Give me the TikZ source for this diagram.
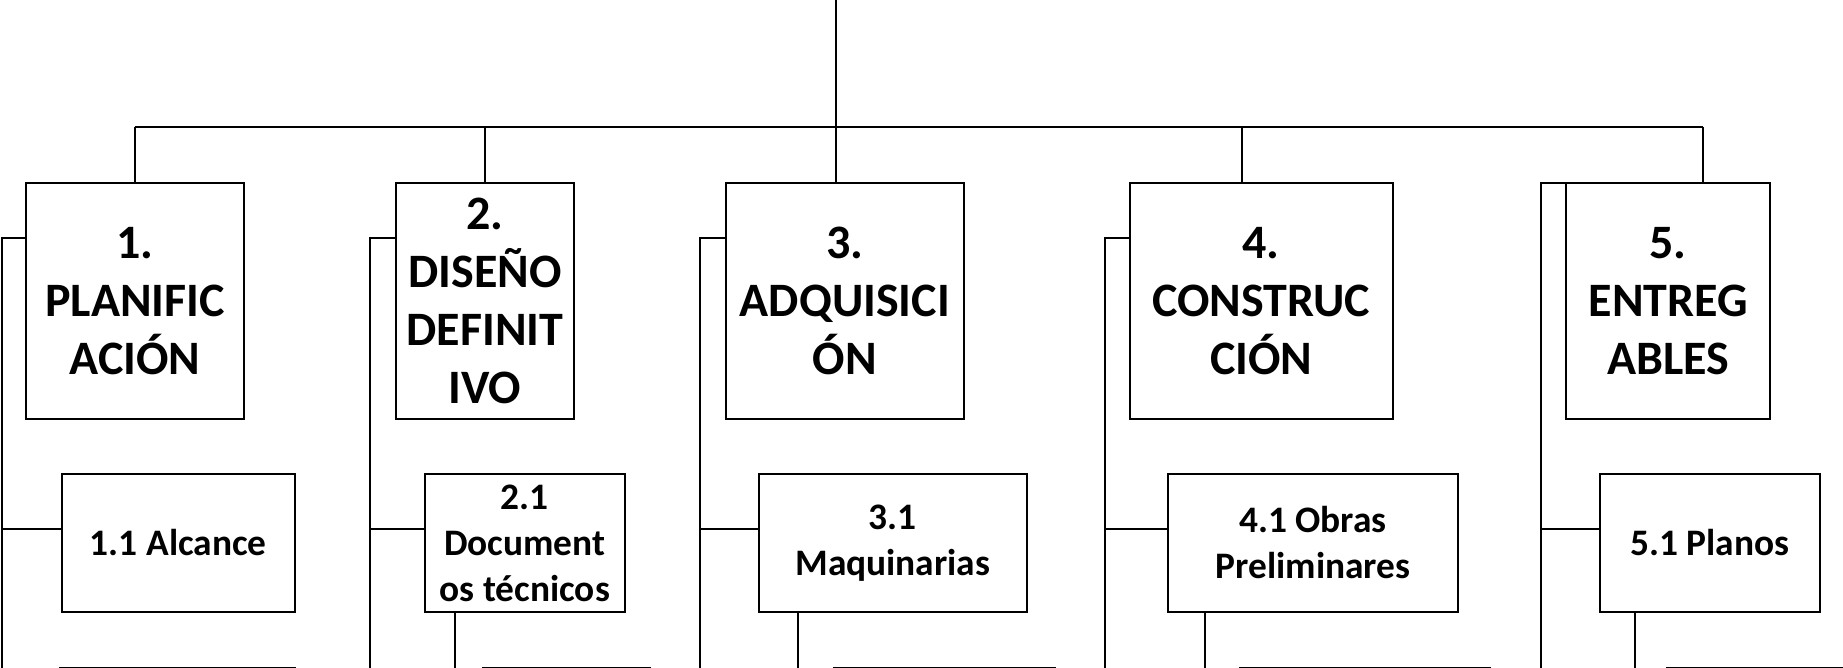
\documentclass[tikz,border=0pt]{standalone}
\usepackage{fontspec}
\setmainfont{Carlito}
\usetikzlibrary{positioning}
\tikzset{
  wire/.style={line width=1pt},
  phase/.style={draw,line width=1pt,align=center,inner sep=2pt,minimum height=117.8pt,font=\bfseries\fontsize{24}{29}\selectfont},
  task/.style={draw,line width=1pt,align=center,inner sep=2pt,minimum height=69pt,font=\bfseries\fontsize{18.7}{23}\selectfont},
  stub/.style={draw,line width=1pt,anchor=north,minimum height=69pt},
  every picture/.style={x=0.5pt,y=-0.5pt}
}

\begin{document}
\begin{tikzpicture}
  \useasboundingbox (0,0) rectangle (1843,668);
  % phases
  \node[phase,minimum width=109.3pt] (p1) at (135,300.8) {1.\\PLANIFIC\\ACIÓN};
  \node[phase,minimum width=89.2pt] (p2) at (484.9,300.8) {2.\\DISEÑO\\DEFINIT\\IVO};
  \node[phase,minimum width=119.2pt] (p3) at (844.9,300.8) {3.\\ADQUISICI\\ÓN};
  \node[phase,minimum width=131.5pt] (p4) at (1261.2,300.8) {4.\\CONSTRUC\\CIÓN};
  \node[phase,minimum width=102.2pt] (p5) at (1668.2,300.8) {5.\\ENTREG\\ABLES};
  % first tasks
  \node[task,minimum width=116.7pt] (t1) at (178.3,543) {1.1 Alcance};
  \node[task,minimum width=100.2pt] (t2) at (524.8,543) {2.1\\Document\\os técnicos};
  \node[task,minimum width=134.2pt] (t3) at (892.8,543) {3.1\\Maquinarias};
  \node[task,minimum width=145.3pt] (t4) at (1313,543) {4.1 Obras\\Preliminares};
  \node[task,minimum width=110.2pt] (t5) at (1709.8,543) {5.1 Planos};
  % next row, only the tops show
  \node[stub,minimum width=117.5pt] (s1) at (177.5,667) {};
  \node[stub,minimum width=83.5pt] (s2) at (566.5,667) {};
  \node[stub,minimum width=110.5pt] (s3) at (944.5,667) {};
  \node[stub,minimum width=125pt] (s4) at (1365,667) {};
  \node[stub,minimum width=110pt] (s5) at (1777,667) {};

  % root and bar
  \coordinate (root) at (835.7,0);
  \coordinate (d1) at (135,127); \coordinate (d2) at (485,127); \coordinate (d3) at (835.7,127);
  \coordinate (d4) at (1241.7,127); \coordinate (d5) at (1702.7,127);
  \draw[wire] (root) -- (d3);
  \draw[wire] (d1) -- (d5);
  \foreach \i in {1,...,5} \draw[wire] (d\i) -- (d\i |- p\i.north);

  % spines on the left of each phase
  \coordinate (k1) at (2.3,237.7); \coordinate (k2) at (370,237.7); \coordinate (k3) at (700,237.7);
  \coordinate (k4) at (1105,237.7); \coordinate (k5) at (1540.7,183);
  \coordinate (tie) at (0,529); \coordinate (bottom) at (0,720);
  \foreach \i in {1,...,5} {
    \draw[wire] (k\i -| p\i.west) -- (k\i) -- (k\i |- bottom);
    \draw[wire] (k\i |- tie) -- (tie -| t\i.west);
  }
  % drops under the tasks
  \foreach \i/\x in {2/455,3/797.7,4/1205,5/1635} {
    \coordinate (q\i) at (\x,0);
    \draw[wire] (q\i |- t\i.south) -- (q\i |- bottom);
  }
\end{tikzpicture}
\end{document}
